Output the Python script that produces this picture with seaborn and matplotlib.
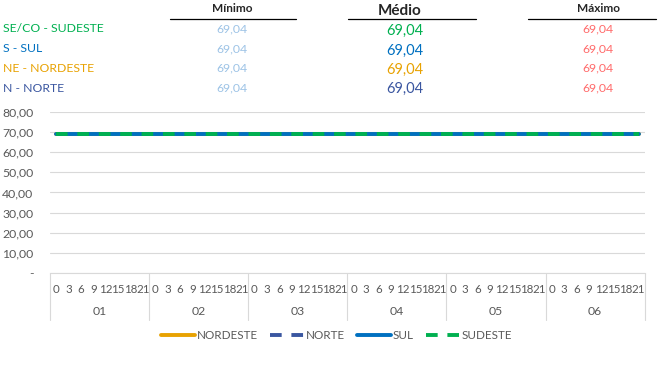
import pandas as pd
import matplotlib
matplotlib.use("Agg")
import matplotlib.pyplot as plt
import seaborn as sns
from matplotlib.lines import Line2D

# series values: 6 days x 8 hours (0..21 every 3h)
days = ["01", "02", "03", "04", "05", "06"]
hours = [0, 3, 6, 9, 12, 15, 18, 21]
nordeste = [69.04, 69.04, 69.04, 69.04, 69.04, 69.04, 69.04, 69.04,
            69.04, 69.04, 69.04, 69.04, 69.04, 69.04, 69.04, 69.04,
            69.04, 69.04, 69.04, 69.04, 69.04, 69.04, 69.04, 69.04,
            69.04, 69.04, 69.04, 69.04, 69.04, 69.04, 69.04, 69.04,
            69.04, 69.04, 69.04, 69.04, 69.04, 69.04, 69.04, 69.04,
            69.04, 69.04, 69.04, 69.04, 69.04, 69.04, 69.04, 69.04]
norte = [69.04, 69.04, 69.04, 69.04, 69.04, 69.04, 69.04, 69.04,
         69.04, 69.04, 69.04, 69.04, 69.04, 69.04, 69.04, 69.04,
         69.04, 69.04, 69.04, 69.04, 69.04, 69.04, 69.04, 69.04,
         69.04, 69.04, 69.04, 69.04, 69.04, 69.04, 69.04, 69.04,
         69.04, 69.04, 69.04, 69.04, 69.04, 69.04, 69.04, 69.04,
         69.04, 69.04, 69.04, 69.04, 69.04, 69.04, 69.04, 69.04]
sul = [69.04, 69.04, 69.04, 69.04, 69.04, 69.04, 69.04, 69.04,
       69.04, 69.04, 69.04, 69.04, 69.04, 69.04, 69.04, 69.04,
       69.04, 69.04, 69.04, 69.04, 69.04, 69.04, 69.04, 69.04,
       69.04, 69.04, 69.04, 69.04, 69.04, 69.04, 69.04, 69.04,
       69.04, 69.04, 69.04, 69.04, 69.04, 69.04, 69.04, 69.04,
       69.04, 69.04, 69.04, 69.04, 69.04, 69.04, 69.04, 69.04]
sudeste = [69.04, 69.04, 69.04, 69.04, 69.04, 69.04, 69.04, 69.04,
           69.04, 69.04, 69.04, 69.04, 69.04, 69.04, 69.04, 69.04,
           69.04, 69.04, 69.04, 69.04, 69.04, 69.04, 69.04, 69.04,
           69.04, 69.04, 69.04, 69.04, 69.04, 69.04, 69.04, 69.04,
           69.04, 69.04, 69.04, 69.04, 69.04, 69.04, 69.04, 69.04,
           69.04, 69.04, 69.04, 69.04, 69.04, 69.04, 69.04, 69.04]

# summary table at the top
regions = ["SE/CO - SUDESTE", "S - SUL", "NE - NORDESTE", "N - NORTE"]
minimo = ["69,04", "69,04", "69,04", "69,04"]
medio = ["69,04", "69,04", "69,04", "69,04"]
maximo = ["69,04", "69,04", "69,04", "69,04"]

colors = {"NORDESTE": "#E8A202", "NORTE": "#3A56A0", "SUL": "#0070C0", "SUDESTE": "#00B050"}
region_colors = ["#00B050", "#0070C0", "#E8A202", "#3A56A0"]

rows = []
for name, vals in [("NORDESTE", nordeste), ("NORTE", norte), ("SUL", sul), ("SUDESTE", sudeste)]:
    for i, v in enumerate(vals):
        rows.append({"idx": i, "valor": v, "serie": name})
df = pd.DataFrame(rows)

sns.set_style("white")
plt.rcParams["font.family"] = ["Lato", "DejaVu Sans"]

fig = plt.figure(figsize=(6.69, 3.90), dpi=100)
ax = fig.add_axes([0.0747, 0.30, 0.889, 0.413])

sns.lineplot(data=df, x="idx", y="valor", hue="serie", style="serie",
             palette=colors,
             dashes={"NORDESTE": "", "NORTE": (3, 2.5), "SUL": "", "SUDESTE": (3, 2.5)},
             linewidth=2.8, ax=ax, legend=False)

ax.set_ylim(0, 80)
ax.set_xlim(-0.5, 47.5)
ax.set_yticks(range(0, 81, 10))
ax.set_yticklabels(["-"] + [f"{v},00" for v in range(10, 81, 10)])
ax.yaxis.grid(True, color="#D9D9D9", linewidth=0.8)
ax.set_axisbelow(True)
for s in ["left", "right", "top"]:
    ax.spines[s].set_visible(False)
ax.spines["bottom"].set_color("#D9D9D9")

n = len(days) * len(hours)
ax.set_xticks(range(n))
ax.set_xticklabels([str(h) for _ in days for h in hours])
ax.tick_params(axis="x", length=0, pad=8, labelsize=8.3, labelcolor="#595959")
ax.tick_params(axis="y", length=0, pad=12, labelsize=8.8, labelcolor="#595959")
ax.set_xlabel("")
ax.set_ylabel("")

# day separators and labels
for k in range(len(days) + 1):
    ax.axvline(k * len(hours) - 0.5, ymin=-0.29, ymax=0, color="#D9D9D9",
               linewidth=0.8, clip_on=False)
for k, d in enumerate(days):
    ax.text(k * len(hours) + 3.5, -0.24, d, transform=ax.get_xaxis_transform(),
            ha="center", va="center", fontsize=8.8, color="#595959")

# legend
handles = [
    Line2D([], [], color=colors["NORDESTE"], lw=2.8),
    Line2D([], [], color=colors["NORTE"], lw=2.8, dashes=(3, 2.5)),
    Line2D([], [], color=colors["SUL"], lw=2.8),
    Line2D([], [], color=colors["SUDESTE"], lw=2.8, dashes=(3, 2.5)),
]
fig.legend(handles, ["NORDESTE", "NORTE", "SUL", "SUDESTE"], loc="center",
           bbox_to_anchor=(0.503, 0.14), ncol=4, frameon=False, handlelength=2.9,
           handletextpad=0.2, columnspacing=1.0, prop={"size": 8.4},
           labelcolor="#595959")

# summary header
def fx(px):
    return px / 669

def fy(py):
    return 1 - py / 390

fig.text(fx(232), fy(9), "Mínimo", ha="center", va="center", fontsize=8.5, fontweight="bold")
fig.text(fx(400), fy(11), "Médio", ha="center", va="center", fontsize=11, fontweight="bold")
fig.text(fx(598), fy(9), "Máximo", ha="center", va="center", fontsize=8.5, fontweight="bold")
for x0, x1 in [(170, 296), (348, 476), (528, 656)]:
    fig.add_artist(Line2D([fx(x0), fx(x1)], [fy(19), fy(19)], color="black", lw=0.9))

for i, reg in enumerate(regions):
    y = fy(29 + i * 19.7)
    fig.text(fx(3), y, reg, ha="left", va="center", fontsize=8.8, color=region_colors[i])
    fig.text(fx(232), y, minimo[i], ha="center", va="center", fontsize=8.8, color="#9DC3E6")
    fig.text(fx(405), fy(31 + i * 19.4), medio[i], ha="center", va="center", fontsize=10.5,
             color=region_colors[i])
    fig.text(fx(598), y, maximo[i], ha="center", va="center", fontsize=8.8, color="#FF6B6B")

fig.savefig("out.png", dpi=100)
